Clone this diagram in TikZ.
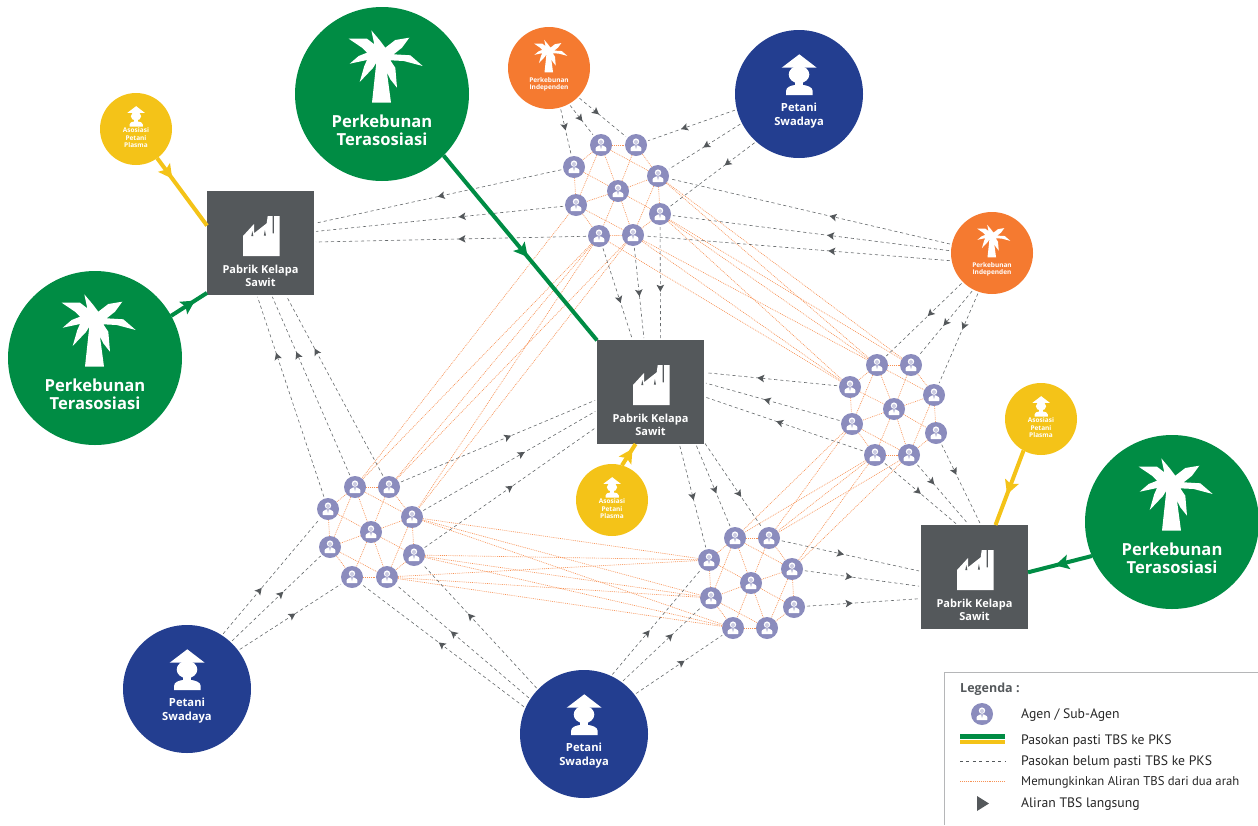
\documentclass[tikz,border=0pt]{standalone}
\usepackage{fontspec}
\setmainfont{PT Sans}
\newfontfamily\hbf[BoldFont={Open Sans Bold}]{Open Sans}
\usetikzlibrary{decorations.markings}
\definecolor{gr}{HTML}{008C44}
\definecolor{ye}{HTML}{F4C318}
\definecolor{bl}{HTML}{233E90}
\definecolor{orc}{HTML}{F57A30}
\definecolor{fac}{HTML}{54585B}
\definecolor{ag}{HTML}{8B8CBD}
\definecolor{ln}{HTML}{F79255}
\definecolor{lg}{HTML}{B5B6B8}
\tikzset{x=1pt,y=-1pt,
 hub/.style={circle,inner sep=0pt,minimum size=2*#1 pt,outer sep=0pt},
 ph/.style={rectangle,fill=fac,inner sep=0pt,minimum width=107pt,minimum height=104pt,outer sep=0pt},
 agentn/.style={circle,fill=ag,inner sep=0pt,minimum size=22pt,outer sep=0pt},
 lab/.style 2 args={text=white,font=\hbf\bfseries\fontsize{#1}{#2}\selectfont,align=center,inner sep=0pt},
 leg/.style={text=black!85,font=\fontsize{13.7}{15}\selectfont,anchor=west,inner sep=0pt},
 agenticon/.pic={\fill[white] (0,-3.4) circle (3.2);
   \fill[ag!45!white] (0,-3) circle (2);
   \fill[white,rounded corners=.8pt] (-5.4,6.2)--(-5.4,2.6)--(-2,.4)--(2,.4)--(5.4,2.6)--(5.4,6.2)--cycle;
   \fill[ag] (-.7,.4)--(.7,.4)--(0,4)--cycle;},
 palm/.pic={\fill[white] (-10,8.7)--(-5.7,-31.3)--(-9,-26)--(-22.3,-12)--(-17.7,-28)--(-15,-34)--(-32.3,-30.3)--(-23.3,-38)--(-15,-41.3)--(-20,-46.3)--(-33.3,-55.3)--(-15,-55.3)--(-7.7,-49.7)--(-10.7,-63.7)--(-1.7,-53)--(3.3,-46.3)--(13.3,-54)--(27.3,-56.3)--(20,-46.3)--(11.7,-39.7)--(28.3,-38.7)--(40.7,-28)--(21.7,-33)--(8.3,-33.7)--(13.3,-26.3)--(15,-6.3)--(8.3,-14.7)--(5,-21.3)--(9,8.7)--cycle;},
 factoryicon/.pic={\fill[white] (-17.5,13)--(-17.5,-7)--(-6.5,-19)--(-6.5,-9.7)--(6.2,-19.7)--(7.2,-27)--(12,-27)--(12,-9.7)--(13.5,-9.7)--(13.5,-27)--(19,-27)--(19,13)--cycle;
   \fill[fac] (-8.2,-12)--(-9.2,-7)--(-7.2,-7)--cycle;
   \fill[fac] (4.4,-13)--(3.4,-7.5)--(5.4,-7.5)--cycle;},
 hat/.pic={\fill[white] (.3,-39.7)--(17.7,-26.3)--(-17.3,-26.3)--cycle;
   \fill[white] (0,-19.5) ellipse (10.3 and 8.7);
   \fill[white] (-4,-13)--(4,-13)--(4,-6)--(-4,-6)--cycle;
   \fill[white] (-13,1)--(-13,-3) .. controls (-13,-7) and (-8,-8.5) .. (-4,-9)--(4.3,-9) .. controls (8,-8.5) and (13.7,-7) .. (13.7,-3)--(13.7,1)--cycle;},
 dl/.style={draw=fac!90,dash pattern=on 3.2pt off 2.8pt,line width=.6pt,shorten <=2pt,shorten >=2pt},
 ol/.style={draw=ln,dash pattern=on .9pt off 1pt,line width=.65pt},
 mk/.style={postaction={decorate,decoration={markings,mark=at position #1 with {\fill[fac] (3.5,0)--(-3.5,3.8)--(-2,0)--(-3.5,-3.8)--cycle;}}}},
 sure/.style 2 args={draw=#2,line width=4pt,postaction={decorate,decoration={markings,mark=at position #1 with {\fill[#2] (7,0)--(-7,7.5)--(-4,0)--(-7,-7.5)--cycle;}}}},
}
\newcommand{\hublabel}[5]{\node[lab={#2}{#3},yshift=-#4pt] (#1-t) at (#1) {#5};}
\begin{document}
\begin{tikzpicture}
\useasboundingbox (0,0) rectangle (1258,825);
% agents
\foreach \n/\x/\y in {
a1/601/145,a2/636/145,a3/574/167,a4/618/191,a5/658/176,a6/576/205,a7/660/214,a8/599/236,a9/633/235,
b1/877/365,b2/911/365,b3/850/387,b4/894/409,b5/934/395,b6/852/424,b7/936/433,b8/875/455,b9/909/455,
c1/355/487,c2/389/487,c3/328/509,c4/371/532,c5/412/517,c6/330/547,c7/414/555,c8/352/577,c9/387/577,
d1/735/538,d2/769/538,d3/709/560,d4/751/583,d5/792/569,d6/711/598,d7/794/607,d8/733/628,d9/767/628}
{\node[agentn] (\n) at (\x,\y) {}; \pic at (\n) {agenticon};}
% orange inner links
\foreach \p in {a,b,c,d}{
 \foreach \u/\v in {1/2,1/3,1/4,2/4,1/5,2/5,3/4,3/6,1/6,4/5,4/6,4/8,4/9,4/7,5/7,5/9,6/8,6/9,7/9,8/9}{
  \draw[ol] (\p\u)--(\p\v);}
}
% orange long links
\foreach \u/\v in {a5/b2,a5/b1,a7/b1,a7/b2,a7/b3,a9/b1,a9/b3,a8/b3,
  a6/c1,a8/c1,a8/c2,a8/c5,a9/c2,a9/c5,
  c5/d3,c5/d6,c5/d8,c7/d3,c7/d6,c7/d8,c9/d3,c9/d6,c9/d8,
  b6/d1,b6/d2,b8/d1,b8/d2,b8/d5,b9/d2,b9/d5}
  {\draw[ol] (\u)--(\v);}
% hubs
\node[hub=87,fill=gr] (tA) at (95,358) {}; \pic at (tA) {palm};
\node[hub=87,fill=gr] (tB) at (382,94) {}; \pic at (tB) {palm};
\node[hub=87,fill=gr] (tC) at (1172,522) {}; \pic at (tC) {palm};
\hublabel{tA}{16.6}{18}{36}{Perkebunan\\Terasosiasi}
\hublabel{tB}{16.6}{18}{36}{Perkebunan\\Terasosiasi}
\hublabel{tC}{16.6}{18}{36}{Perkebunan\\Terasosiasi}
\node[hub=41,fill=orc] (oA) at (549,68) {}; \pic[scale=.45,yshift=-1pt] at (oA) {palm};
\node[hub=41,fill=orc] (oB) at (992,253) {}; \pic[scale=.45,yshift=-1pt] at (oB) {palm};
\hublabel{oA}{6.5}{7.5}{16.5}{Perkebunan\\Independen}
\hublabel{oB}{6.5}{7.5}{16.5}{Perkebunan\\Independen}
\node[hub=64,fill=bl] (bA) at (799,94) {}; \pic at (bA) {hat};
\node[hub=64,fill=bl] (bB) at (187,689) {}; \pic at (bB) {hat};
\node[hub=64,fill=bl] (bC) at (584,734) {}; \pic at (bC) {hat};
\hublabel{bA}{11.2}{13.5}{21.5}{Petani\\Swadaya}
\hublabel{bB}{11.2}{13.5}{21.5}{Petani\\Swadaya}
\hublabel{bC}{11.2}{13.5}{21.5}{Petani\\Swadaya}
\node[hub=36,fill=ye] (yA) at (136,129) {}; \pic[scale=.5,yshift=6pt] at (yA) {hat};
\node[hub=36,fill=ye] (yB) at (612,500) {}; \pic[scale=.5,yshift=6pt] at (yB) {hat};
\node[hub=36,fill=ye] (yC) at (1041,419) {}; \pic[scale=.5,yshift=6pt] at (yC) {hat};
\hublabel{yA}{6.5}{7.5}{9}{Asosiasi\\Petani\\Plasma}
\hublabel{yB}{6.5}{7.5}{9}{Asosiasi\\Petani\\Plasma}
\hublabel{yC}{6.5}{7.5}{9}{Asosiasi\\Petani\\Plasma}
\node[ph] (pkA) at (260.5,243) {}; \pic at (pkA) {factoryicon};
\node[ph] (pkB) at (650.5,392) {}; \pic at (pkB) {factoryicon};
\node[ph] (pkC) at (974.5,577) {}; \pic at (pkC) {factoryicon};
\hublabel{pkA}{11}{13}{32.5}{Pabrik Kelapa\\Sawit}
\hublabel{pkB}{11}{13}{32.5}{Pabrik Kelapa\\Sawit}
\hublabel{pkC}{11}{13}{32.5}{Pabrik Kelapa\\Sawit}
% dashed connectors
\foreach \s/\t/\p in {
 oA.-74/a3/.4, oA.-61/a1/.45, oA.-45/a2/.37,
 bA.194.5/a2/.58, bA.207/a5/.48, bA.228/a7/.33,
 a3/pkA.20.5/.49, a6/pkA.12.7/.41, a8/pkA.1/.46,
 a8/pkB.109.6/.57, a9/pkB.97/.5, a7/pkB.79.6/.55,
 oB.168/a5/.42, oB.177/a7/.43, oB.191/a9/.39,
 oB.225/b1/.42, oB.243/b2/.5, oB.251/b5/.37,
 b3/pkB.20.5/.58, b6/pkB.10.6/.54, b8/pkB.-5.3/.53,
 b7/pkC.83/.35, b9/pkC.96/.3, b8/pkC.108.6/.47,
 d2/pkC.174.7/.43, d5/pkC.190.6/.39, d7/pkC.202.4/.38,
 pkB.-61.3/d3/.5, pkB.-49.4/d1/.55, pkB.-43/d2/.6,
 c2/pkB.188.5/.55, c5/pkB.199.5/.57, c7/pkB.213/.5,
 c3/pkA.-94/.7, c1/pkA.-78.6/.67, c2/pkA.-64.8/.69,
 bB.57/c3/.38, bB.47/c6/.55, bB.37.5/c8/.52,
 bC.156/c8/.51, bC.147/c9/.57, bC.136/c7/.58,
 bC.65/d3/.4, bC.54/d6/.6, bC.38/d8/.53}
 {\draw[dl,mk=\p] (\s)--(\t);}
% certain supply
\draw[sure={.22}{ye}] (yA.-54.7)--(pkA.162.4);
\draw[sure={.5}{gr}] (tA.29)--(pkA.223);
\draw[sure={.52}{gr}] (tB.-45)--(pkB.136.4);
\draw[sure={.5}{ye}] (yB.74)--(pkB.-106.6);
\draw[sure={.5}{ye}] (yC.241.4)--(pkC.68.5);
\draw[sure={.47}{gr}] (tC.203)--(pkC.5.3);
% legend
\draw[lg,line width=.7pt] (944,825)--(944,672)--(1258,672);
\node[text=fac,font=\hbf\bfseries\fontsize{12.5}{14}\selectfont,anchor=west,inner sep=0pt] (lgt) at (960,689) {Legenda :};
\node[agentn] (lga) at (982,714) {}; \pic at (lga) {agenticon};
\node[leg] (l1) at (1021,715.5) {Agen / Sub-Agen};
\fill[gr] (960,734)--(1005,734)--(1005,738.5)--(960,738.5)--cycle;
\fill[ye] (960,739.5)--(1005,739.5)--(1005,744)--(960,744)--cycle;
\node[leg] (l2) at (1021,741) {Pasokan pasti TBS ke PKS};
\draw[fac,dash pattern=on 3pt off 3.4pt,line width=.5pt] (960,761)--(1005,761);
\node[leg] (l3) at (1021,762) {Pasokan belum pasti TBS ke PKS};
\draw[ol] (960,781)--(1005,781);
\node[leg,font=\fontsize{12.7}{15}\selectfont] (l4) at (1021,782) {Memungkinkan Aliran TBS dari dua arah};
\fill[fac] (977,796)--(989,803.5)--(977,811)--cycle;
\node[leg] (l5) at (1021,804.5) {Aliran TBS langsung};
\end{tikzpicture}
\end{document}
